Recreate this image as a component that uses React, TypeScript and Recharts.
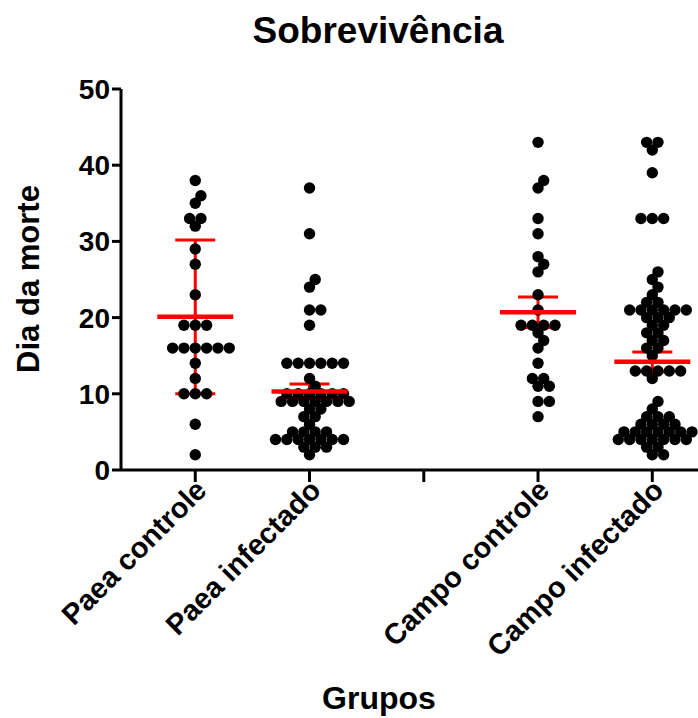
import React from 'react';
import { ScatterChart, Scatter, XAxis, YAxis, ErrorBar } from 'recharts';

// groups on the x axis (the third slot is an empty gap)
const groupNames = ['Paea controle', 'Paea infectado', '', 'Campo controle', 'Campo infectado'];

// day of death, one entry per animal
const paeaControle = [38, 36, 35, 33, 33, 32, 29, 27, 23, 19, 19, 19, 16, 16, 16, 16, 16, 16, 14, 12, 10, 10, 10, 6, 2];
const paeaInfectado = [
  37, 31, 25, 24, 21, 21, 19, 14, 14, 14, 14, 14, 14, 12, 11, 10, 10, 10, 10, 10, 10,
  9, 9, 9, 9, 9, 9, 9, 8, 8, 7, 7, 6, 5, 5, 5, 5, 4, 4, 4, 4, 4, 4, 4, 3, 3, 3, 2,
];
const campoControle = [43, 38, 37, 33, 31, 28, 27, 26, 23, 21, 19, 19, 19, 19, 18, 17, 16, 14, 12, 12, 11, 11, 9, 9, 7];
const campoInfectado = [
  43, 43, 42, 39, 33, 33, 33, 26, 25, 24, 23, 22, 22, 21, 21, 21, 21, 21, 21, 20, 20, 20,
  19, 19, 18, 18, 17, 17, 16, 16, 15, 13, 13, 13, 13, 13, 12, 9, 8, 7, 7, 7, 6, 6, 6, 6,
  5, 5, 5, 5, 5, 5, 5, 4, 4, 4, 4, 4, 4, 4, 3, 3, 2, 2,
];

// red mean line and error bar half-length
const groupPos = [1, 2, 4, 5];
const groupMeans = [20.1, 10.3, 20.7, 14.2];
const groupErrors = [10.1, 1.0, 2.0, 1.3];

const FONT = '"Liberation Sans", Arial, sans-serif';

// beeswarm layout: spread equal/close values sideways in half-dot steps
const UNIT_PX = 381 / 50;
const HALF_STEP_PX = 5.67;
const X_UNIT_PX = 114.3;
const MIN_DIST = 9.3;

function swarm(values: number[], pos: number) {
  const placed: { v: number; k: number }[] = [];
  const sorted = [...values].sort((a, b) => a - b);
  sorted.forEach(v => {
    for (let i = 0; i < 60; i++) {
      const k = i === 0 ? 0 : i % 2 === 1 ? (i + 1) / 2 : -i / 2;
      const hit = placed.some(p => {
        const dx = (k - p.k) * HALF_STEP_PX;
        const dy = (v - p.v) * UNIT_PX;
        return Math.sqrt(dx * dx + dy * dy) < MIN_DIST;
      });
      if (!hit) {
        placed.push({ v, k });
        break;
      }
    }
  });
  return placed.map(p => ({ x: pos + (p.k * HALF_STEP_PX) / X_UNIT_PX, y: p.v }));
}

const dots = [
  ...swarm(paeaControle, 1),
  ...swarm(paeaInfectado, 2),
  ...swarm(campoControle, 4),
  ...swarm(campoInfectado, 5),
];

const meanData = groupPos.map((x, i) => ({ x, y: groupMeans[i], err: groupErrors[i] }));

const Dot = (props: any) => <circle cx={props.cx} cy={props.cy} r={5.7} fill="#000" />;

const MeanLine = (props: any) => (
  <line x1={props.cx - 38} x2={props.cx + 38} y1={props.cy} y2={props.cy} stroke="#ff0000" strokeWidth={4.5} />
);

const XTick = (props: any) => {
  const { x, y, payload } = props;
  const label = groupNames[Math.round(payload.value) - 1] || '';
  const ax = x + 13;
  const ay = y + 8;
  return (
    <text
      x={ax}
      y={ay}
      transform={`rotate(-45 ${ax} ${ay})`}
      textAnchor="end"
      fill="#000"
      fontSize={29}
      fontWeight="bold"
      fontFamily={FONT}
    >
      {label}
    </text>
  );
};

const App: React.FC = () => {
  return (
    <div style={{ position: 'absolute', left: 0, top: 0, width: 698, height: 718, background: '#fff' }}>
      <ScatterChart width={698} height={718} margin={{ top: 89, right: 0, bottom: 0, left: 0 }}>
        <XAxis
          type="number"
          dataKey="x"
          domain={[0.35, 5.4]}
          ticks={[1, 2, 3, 4, 5]}
          interval={0}
          allowDataOverflow
          height={248}
          tickSize={12}
          axisLine={{ stroke: '#000', strokeWidth: 3 }}
          tickLine={{ stroke: '#000', strokeWidth: 3 }}
          tick={<XTick />}
        />
        <YAxis
          type="number"
          dataKey="y"
          domain={[0, 50]}
          ticks={[0, 10, 20, 30, 40, 50]}
          interval={0}
          width={121}
          tickSize={9}
          axisLine={{ stroke: '#000', strokeWidth: 3 }}
          tickLine={{ stroke: '#000', strokeWidth: 3 }}
          tick={{ fill: '#000', fontSize: 28, fontWeight: 'bold', fontFamily: FONT }}
        />
        <Scatter data={dots} shape={Dot} isAnimationActive={false} />
        <Scatter data={meanData} shape={MeanLine} isAnimationActive={false}>
          <ErrorBar dataKey="err" direction="y" width={20} stroke="#ff0000" strokeWidth={3} isAnimationActive={false} />
        </Scatter>
      </ScatterChart>
      <svg width={698} height={718} style={{ position: 'absolute', left: 0, top: 0, pointerEvents: 'none' }}>
        <text x={378} y={43} textAnchor="middle" fontSize={37} fontWeight="bold" fontFamily={FONT} fill="#000">
          Sobrevivência
        </text>
        <text
          x={39}
          y={279}
          transform="rotate(-90 39 279)"
          textAnchor="middle"
          fontSize={31}
          fontWeight="bold"
          fontFamily={FONT}
          fill="#000"
        >
          Dia da morte
        </text>
        <text x={379} y={709} textAnchor="middle" fontSize={32} fontWeight="bold" fontFamily={FONT} fill="#000">
          Grupos
        </text>
      </svg>
    </div>
  );
};

export default App;
